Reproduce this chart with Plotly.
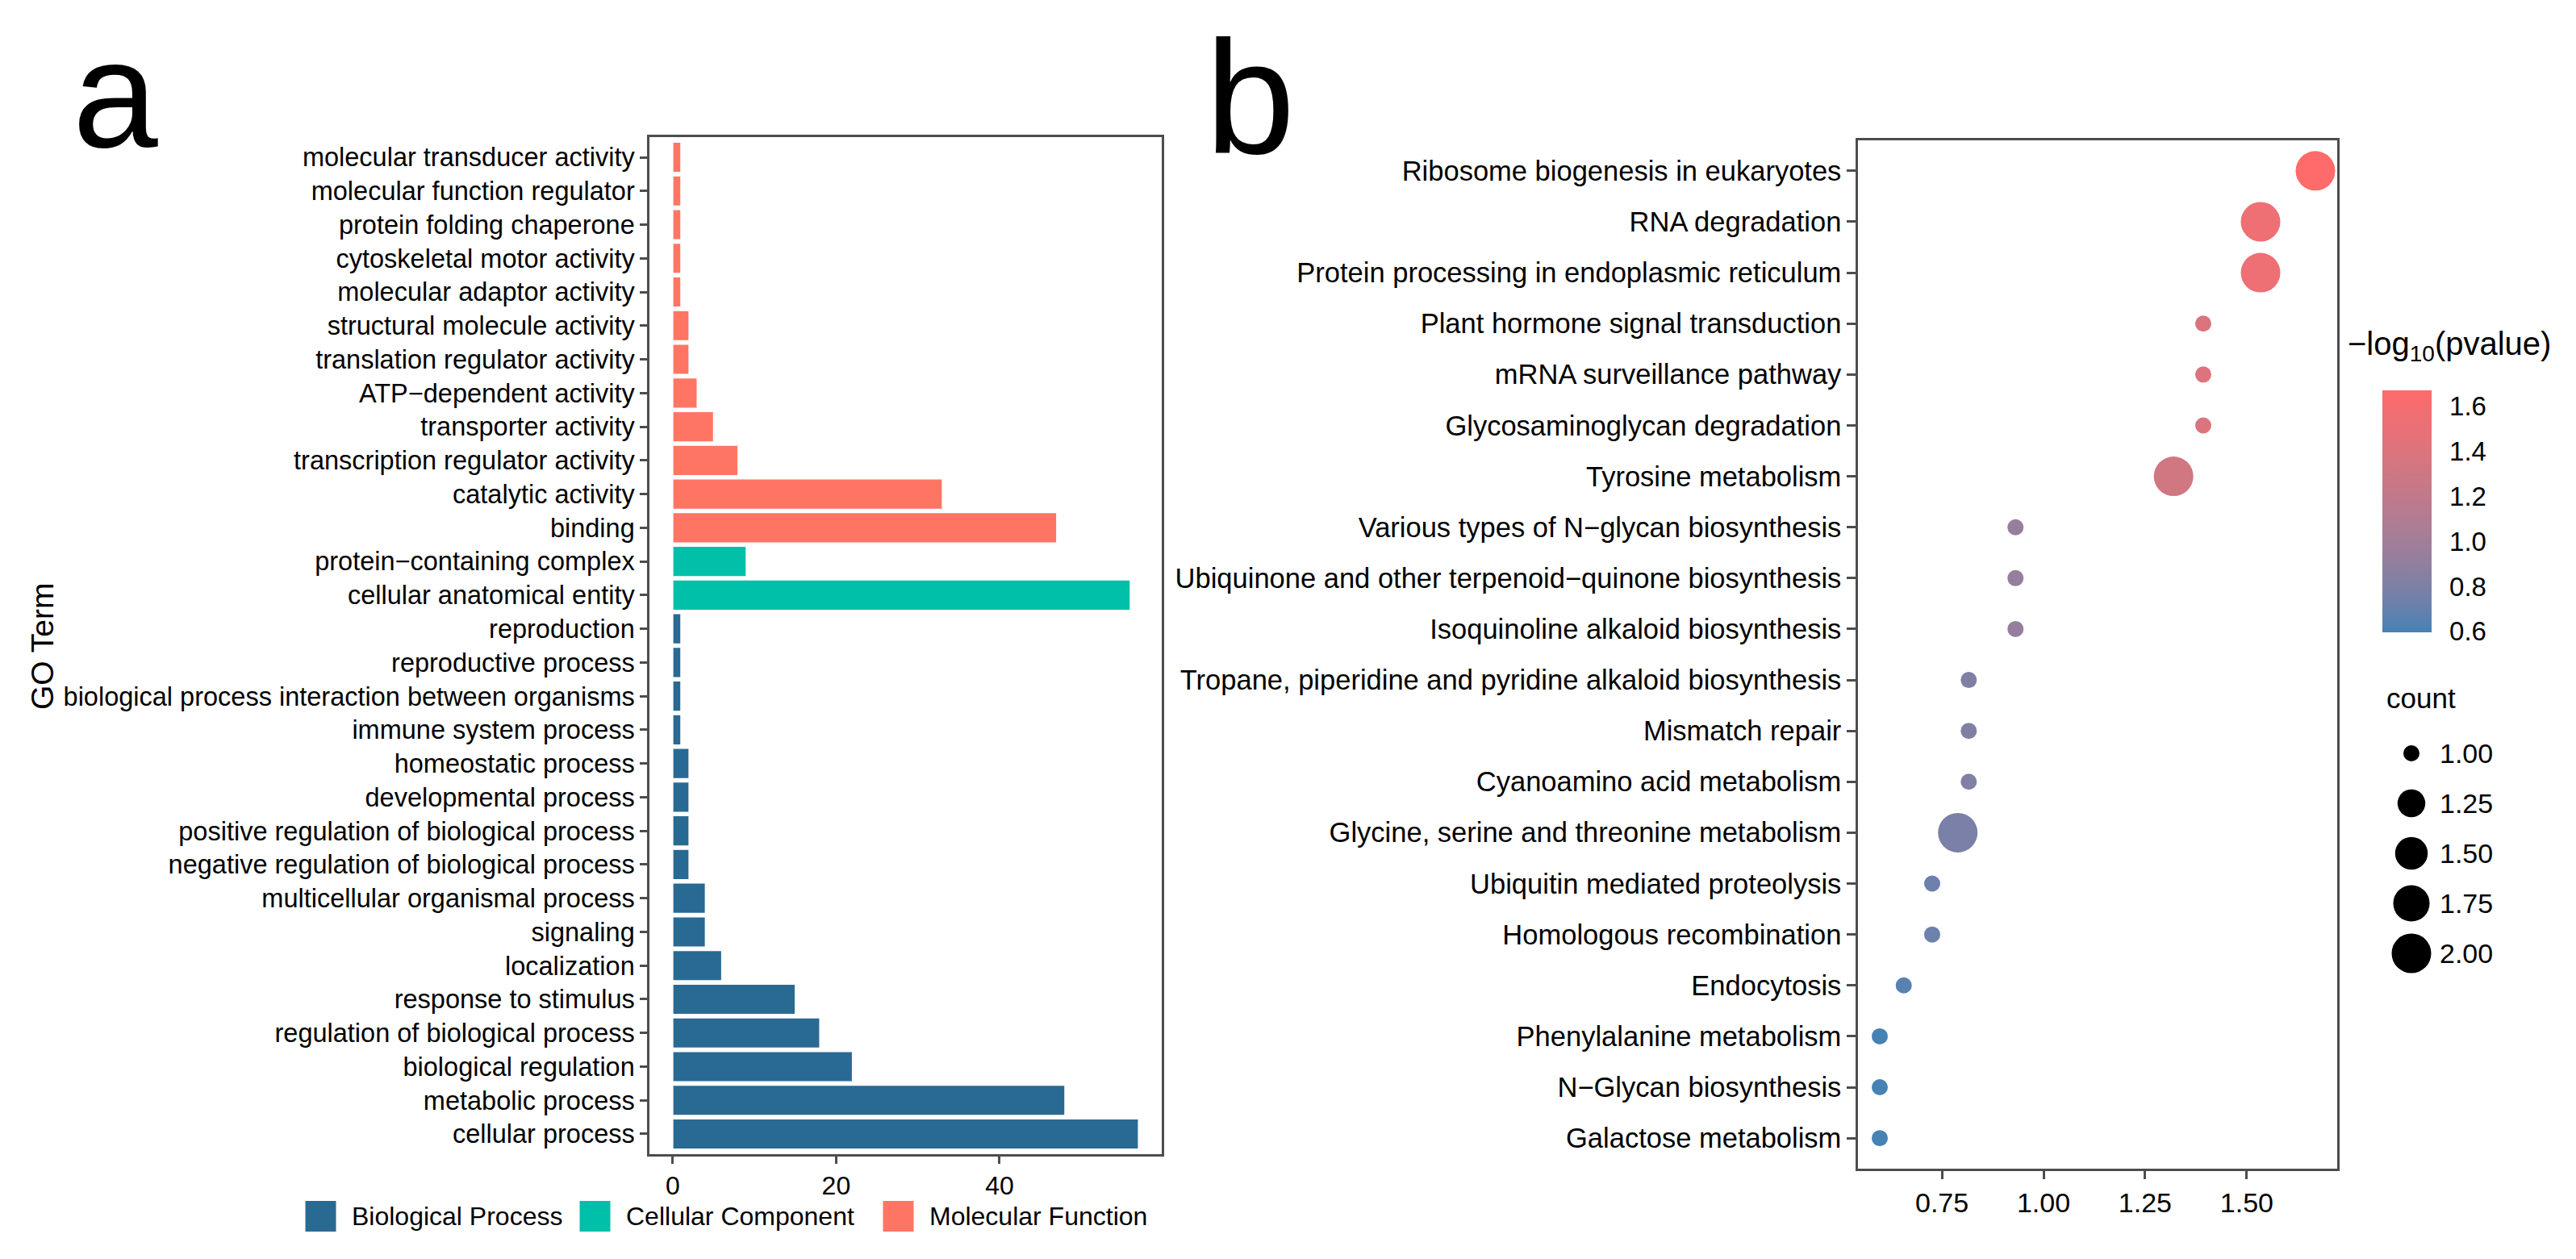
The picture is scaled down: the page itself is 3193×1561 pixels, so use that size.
import plotly.graph_objects as go

# ---------------- data: panel a (GO terms, top to bottom) ----------------
mf_terms = ["molecular transducer activity", "molecular function regulator", "protein folding chaperone",
            "cytoskeletal motor activity", "molecular adaptor activity", "structural molecule activity",
            "translation regulator activity", "ATP−dependent activity", "transporter activity",
            "transcription regulator activity", "catalytic activity", "binding"]
mf_counts = [1, 1, 1, 1, 1, 2, 2, 3, 5, 8, 33, 47]

cc_terms = ["protein−containing complex", "cellular anatomical entity"]
cc_counts = [9, 56]

bp_terms = ["reproduction", "reproductive process", "biological process interaction between organisms",
            "immune system process", "homeostatic process", "developmental process",
            "positive regulation of biological process", "negative regulation of biological process",
            "multicellular organismal process", "signaling", "localization", "response to stimulus",
            "regulation of biological process", "biological regulation", "metabolic process", "cellular process"]
bp_counts = [1, 1, 1, 1, 2, 2, 2, 2, 4, 4, 6, 15, 18, 22, 48, 57]

categories = ["Biological Process", "Cellular Component", "Molecular Function"]
x_ticks_a = [0, 20, 40]

# ---------------- data: panel b (KEGG pathways, top to bottom) ----------------
pathways = ["Ribosome biogenesis in eukaryotes", "RNA degradation", "Protein processing in endoplasmic reticulum",
            "Plant hormone signal transduction", "mRNA surveillance pathway", "Glycosaminoglycan degradation",
            "Tyrosine metabolism", "Various types of N−glycan biosynthesis",
            "Ubiquinone and other terpenoid−quinone biosynthesis", "Isoquinoline alkaloid biosynthesis",
            "Tropane, piperidine and pyridine alkaloid biosynthesis", "Mismatch repair",
            "Cyanoamino acid metabolism", "Glycine, serine and threonine metabolism",
            "Ubiquitin mediated proteolysis", "Homologous recombination", "Endocytosis",
            "Phenylalanine metabolism", "N−Glycan biosynthesis", "Galactose metabolism"]
neg_log10_p = [1.669, 1.534, 1.534, 1.393, 1.393, 1.393, 1.320, 0.931, 0.931, 0.931,
               0.816, 0.816, 0.816, 0.789, 0.726, 0.726, 0.656, 0.597, 0.597, 0.597]
path_counts = [2, 2, 2, 1, 1, 1, 2, 1, 1, 1, 1, 1, 1, 2, 1, 1, 1, 1, 1, 1]

x_ticks_b = [0.75, 1.00, 1.25, 1.50]
color_ticks = [0.6, 0.8, 1.0, 1.2, 1.4, 1.6]
size_legend_values = [1.00, 1.25, 1.50, 1.75, 2.00]

# ---------------- styling ----------------
W, H = 3193, 1561
FONT = "Liberation Sans, Arial, sans-serif"
COL_BP, COL_CC, COL_MF = "#296A93", "#00C0A9", "#FF7564"
LOW, HIGH = "#4682B4", "#FF6A6A"
SIZE_RANGE = (20, 49)


def px_x(p):
    return p / W


def px_y(p):
    return 1 - p / H


# Lab interpolation (like ggplot's gradient)
def _hex_to_rgb(h):
    h = h.lstrip("#")
    return [int(h[i:i + 2], 16) / 255 for i in (0, 2, 4)]


def _lin(c):
    return c / 12.92 if c <= 0.04045 else ((c + 0.055) / 1.055) ** 2.4


def _gam(c):
    c = max(0.0, min(1.0, c))
    return 12.92 * c if c <= 0.0031308 else 1.055 * c ** (1 / 2.4) - 0.055


WP = (0.95047, 1.0, 1.08883)


def _to_lab(h):
    r, g, b = [_lin(c) for c in _hex_to_rgb(h)]
    X = 0.4124 * r + 0.3576 * g + 0.1805 * b
    Y = 0.2126 * r + 0.7152 * g + 0.0722 * b
    Z = 0.0193 * r + 0.1192 * g + 0.9505 * b
    def f(t):
        return t ** (1 / 3) if t > 0.008856 else 7.787 * t + 16 / 116
    fx, fy, fz = f(X / WP[0]), f(Y / WP[1]), f(Z / WP[2])
    return (116 * fy - 16, 500 * (fx - fy), 200 * (fy - fz))


def _from_lab(L, a, b):
    fy = (L + 16) / 116
    fx = fy + a / 500
    fz = fy - b / 200
    def finv(t):
        return t ** 3 if t ** 3 > 0.008856 else (t - 16 / 116) / 7.787
    X, Y, Z = WP[0] * finv(fx), WP[1] * finv(fy), WP[2] * finv(fz)
    r = 3.2406 * X - 1.5372 * Y - 0.4986 * Z
    g = -0.9689 * X + 1.8758 * Y + 0.0415 * Z
    bb = 0.0557 * X - 0.2040 * Y + 1.0570 * Z
    return "rgb(%d,%d,%d)" % tuple(round(_gam(c) * 255) for c in (r, g, bb))


l1, l2 = _to_lab(LOW), _to_lab(HIGH)
colorscale = []
for i in range(11):
    t = i / 10
    colorscale.append([t, _from_lab(*[l1[k] + (l2[k] - l1[k]) * t for k in range(3)])])


def size_area(v, lo=1.0, hi=2.0):
    t = (v - lo) / (hi - lo)
    return SIZE_RANGE[0] + (t ** 0.5) * (SIZE_RANGE[1] - SIZE_RANGE[0])


fig = go.Figure()

# ---------------- panel a bars ----------------
for terms, counts, col in [(bp_terms, bp_counts, COL_BP), (cc_terms, cc_counts, COL_CC), (mf_terms, mf_counts, COL_MF)]:
    fig.add_trace(go.Bar(y=terms, x=counts, orientation="h", width=0.9,
                         marker=dict(color=col, line=dict(color="white", width=1.5)),
                         showlegend=False, xaxis="x", yaxis="y"))

all_terms_top_down = mf_terms + cc_terms + bp_terms
max_a = max(mf_counts + cc_counts + bp_counts)

# ---------------- panel b dots ----------------
cmin, cmax = min(neg_log10_p), max(neg_log10_p)
fig.add_trace(go.Scatter(
    x=neg_log10_p, y=pathways, mode="markers", xaxis="x2", yaxis="y2", showlegend=False,
    marker=dict(size=[size_area(c) for c in path_counts], sizemode="diameter",
                color=neg_log10_p, colorscale=colorscale, cmin=cmin, cmax=cmax,
                line=dict(width=0), opacity=1,
                showscale=True,
                colorbar=dict(x=px_x(2945), xanchor="left", y=px_y(625.75), yanchor="middle",
                              len=300, lenmode="pixels", thickness=61, thicknessmode="pixels",
                              outlinewidth=0, xpad=0, ypad=0,
                              tickvals=color_ticks, ticktext=["%.1f" % v for v in color_ticks],
                              ticks="outside", tickcolor="rgba(255,255,255,0)", ticklen=16, tickwidth=2,
                              tickfont=dict(size=33, color="black", family=FONT))),
))

# ---------------- legends (overlay pixel axis) ----------------
size_leg_y = [926 + 62 * i for i in range(len(size_legend_values))]
fig.add_trace(go.Scatter(x=[2981] * len(size_legend_values), y=size_leg_y, mode="markers",
                         marker=dict(size=[size_area(v) for v in size_legend_values], color="#000000",
                                     opacity=1, sizemode="diameter", line=dict(width=0)),
                         xaxis="x3", yaxis="y3", showlegend=False, hoverinfo="skip"))
key_x = [389.5, 729.5, 1105.5]
LEG_Y = 1500
fig.add_trace(go.Scatter(x=key_x, y=[LEG_Y] * 3, mode="markers",
                         marker=dict(symbol="square", size=38, color=[COL_BP, COL_CC, COL_MF],
                                     line=dict(width=0)),
                         xaxis="x3", yaxis="y3", showlegend=False, hoverinfo="skip"))

annotations = []
for kx, name in zip(key_x, categories):
    annotations.append(dict(x=kx + 36, y=LEG_Y, xref="x3", yref="y3", text=name, showarrow=False,
                            xanchor="left", yanchor="middle", font=dict(size=32, color="black", family=FONT)))
for yy, v in zip(size_leg_y, size_legend_values):
    annotations.append(dict(x=3014, y=yy, xref="x3", yref="y3", text="%.2f" % v, showarrow=False,
                            xanchor="left", yanchor="middle", font=dict(size=34, color="black", family=FONT)))
annotations.append(dict(x=2948, y=857, xref="x3", yref="y3", text="count", showarrow=False,
                        xanchor="left", yanchor="middle", font=dict(size=35, color="black", family=FONT)))
annotations.append(dict(x=2900, y=421, xref="x3", yref="y3", text="−log<sub>10</sub>(pvalue)", showarrow=False,
                        xanchor="left", yanchor="middle", font=dict(size=40, color="black", family=FONT)))
annotations.append(dict(x=44, y=794, xref="x3", yref="y3", text="GO Term", showarrow=False, textangle=-90,
                        xanchor="center", yanchor="middle", font=dict(size=39, color="black", family=FONT)))
annotations.append(dict(x=135, y=108, xref="x3", yref="y3", text="a", showarrow=False,
                        xanchor="center", yanchor="middle", font=dict(size=190, color="black", family=FONT)))
annotations.append(dict(x=1541, y=112, xref="x3", yref="y3", text="b", showarrow=False,
                        xanchor="center", yanchor="middle", font=dict(size=200, color="black", family=FONT)))

axis_common = dict(showgrid=False, zeroline=False, showline=True, mirror=True, linecolor="#4d4d4d",
                   linewidth=2.5, ticks="outside", tickcolor="#4d4d4d", tickwidth=2.5)

span_b = cmax - cmin
fig.update_layout(
    width=W, height=H, margin=dict(l=0, r=0, t=0, b=0),
    paper_bgcolor="white", plot_bgcolor="rgba(0,0,0,0)", font=dict(family=FONT, color="black"),
    barmode="overlay", showlegend=False,
    xaxis=dict(domain=[px_x(797), px_x(1432)], range=[-0.05 * max_a, 1.05 * max_a],
               tickvals=x_ticks_a, ticklen=9, anchor="y", ticklabelstandoff=0,
               tickfont=dict(size=32, color="black", family=FONT), **axis_common),
    yaxis=dict(domain=[px_y(1423), px_y(162)], type="category", categoryorder="array",
               categoryarray=list(reversed(all_terms_top_down)), range=[-0.6, len(all_terms_top_down) - 0.4],
               ticklen=9, anchor="x", tickfont=dict(size=32.5, color="black", family=FONT), **axis_common),
    xaxis2=dict(domain=[px_x(2295), px_x(2889)], range=[cmin - 0.05 * span_b, cmax + 0.05 * span_b],
                tickvals=x_ticks_b, ticktext=["%.2f" % v for v in x_ticks_b], ticklen=10, anchor="y2",
                ticklabelstandoff=0, tickfont=dict(size=34, color="black", family=FONT), **axis_common),
    yaxis2=dict(domain=[px_y(1441), px_y(166)], type="category", categoryorder="array",
                categoryarray=list(reversed(pathways)), range=[-0.6, len(pathways) - 0.4],
                ticklen=11, anchor="x2", tickfont=dict(size=34.5, color="black", family=FONT), **axis_common),
    xaxis3=dict(domain=[0, 1], range=[0, W], visible=False, fixedrange=True, anchor="y3"),
    yaxis3=dict(domain=[0, 1], range=[H, 0], visible=False, fixedrange=True, anchor="x3"),
    annotations=annotations,
)

fig.write_html("out.html")
